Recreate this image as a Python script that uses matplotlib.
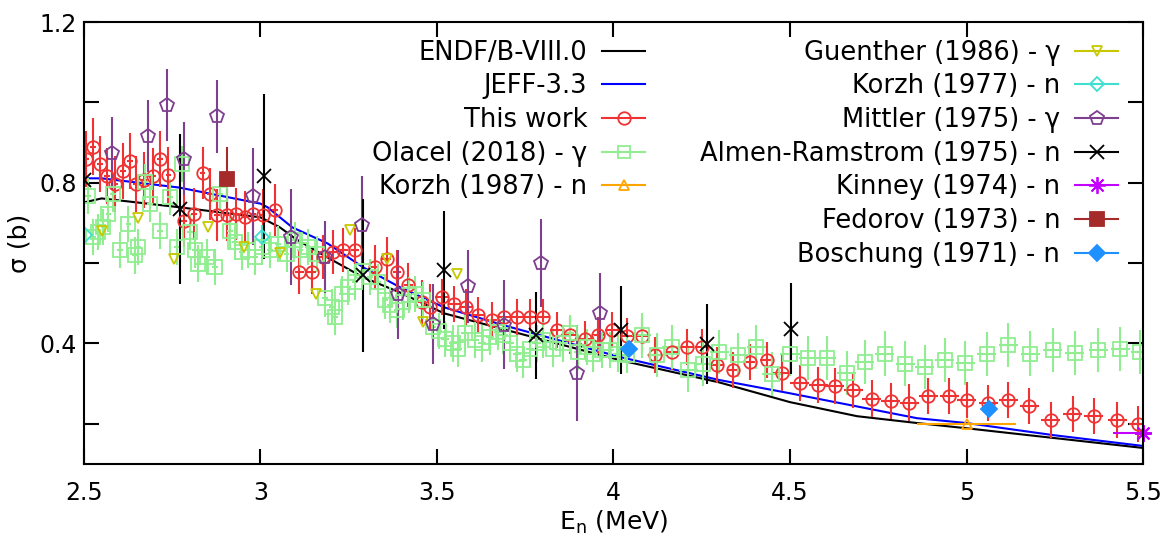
import numpy as np
import matplotlib
matplotlib.use('Agg')
from matplotlib import pyplot as plt
from matplotlib.lines import Line2D

# evaluated libraries
endf_e = [2.5, 2.55, 2.77, 3.0, 3.055, 3.10, 3.19, 3.29, 3.395, 3.52, 3.69, 4.02, 4.30, 4.50, 4.69, 4.86, 5.0, 5.245, 5.5]
endf_xs = [0.751, 0.761, 0.739, 0.714, 0.689, 0.660, 0.614, 0.565, 0.527, 0.475, 0.435, 0.358, 0.303, 0.254, 0.219, 0.202, 0.189, 0.165, 0.140]
jeff_e = [2.5, 2.55, 2.77, 3.0, 3.02, 3.09, 3.19, 3.29, 3.395, 3.52, 3.69, 4.02, 4.30, 4.50, 4.86, 5.0, 5.245, 5.5]
jeff_xs = [0.811, 0.811, 0.788, 0.748, 0.739, 0.689, 0.649, 0.590, 0.540, 0.490, 0.445, 0.366, 0.309, 0.276, 0.214, 0.202, 0.172, 0.145]

# this work
tw_e = [2.506, 2.525, 2.545, 2.566, 2.588, 2.610, 2.630, 2.647, 2.670, 2.695, 2.715, 2.739,
        2.784, 2.812, 2.836, 2.857, 2.876, 2.904, 2.931, 2.956, 2.980, 3.006, 3.041,
        3.110, 3.145, 3.178, 3.206, 3.235, 3.268, 3.324, 3.357, 3.386, 3.419, 3.457, 3.480,
        3.513, 3.549, 3.583, 3.617, 3.655, 3.690, 3.726, 3.763, 3.799, 3.839, 3.877, 3.919,
        3.957, 3.995, 4.037, 4.080, 4.118, 4.165, 4.207, 4.250, 4.292, 4.339, 4.388, 4.434,
        4.476, 4.528, 4.580, 4.627, 4.679, 4.731, 4.785, 4.838, 4.892, 4.951, 5.000, 5.062,
        5.118, 5.178, 5.239, 5.301, 5.361, 5.427, 5.487]
tw_xs = [0.859, 0.890, 0.847, 0.816, 0.797, 0.830, 0.855, 0.797, 0.806, 0.816, 0.859, 0.820,
         0.706, 0.723, 0.824, 0.772, 0.719, 0.719, 0.723, 0.714, 0.723, 0.719, 0.733,
         0.578, 0.578, 0.615, 0.627, 0.633, 0.633, 0.590, 0.611, 0.578, 0.545, 0.503, 0.492,
         0.516, 0.499, 0.490, 0.470, 0.458, 0.466, 0.466, 0.465, 0.465, 0.433, 0.420, 0.410,
         0.420, 0.433, 0.418, 0.418, 0.371, 0.379, 0.391, 0.391, 0.346, 0.334, 0.354, 0.358,
         0.327, 0.302, 0.296, 0.294, 0.284, 0.263, 0.257, 0.253, 0.269, 0.269, 0.259, 0.251,
         0.259, 0.244, 0.209, 0.224, 0.219, 0.209, 0.199]
tw_dxs = [0.07] * 12 + [0.065] * 11 + [0.055] * 12 + [0.045] * 43
tw_de = [0.008] * 23 + [0.012] * 12 + [0.018] * 24 + [0.027] * 19

# Olacel (2018)
ol_e = [2.512, 2.526, 2.540, 2.555, 2.569, 2.583, 2.602, 2.626, 2.644, 2.654, 2.673, 2.687,
        2.715, 2.744, 2.763, 2.777, 2.800, 2.814, 2.824, 2.848, 2.871, 2.885, 2.914, 2.928,
        2.947, 2.965, 2.984, 3.005, 3.027, 3.050, 3.074, 3.098, 3.112, 3.135, 3.159, 3.183,
        3.202, 3.211, 3.230, 3.249, 3.268, 3.290, 3.310, 3.334, 3.353, 3.367, 3.386, 3.405,
        3.420, 3.438, 3.461, 3.490, 3.505, 3.523, 3.546, 3.560, 3.579, 3.608, 3.627, 3.650,
        3.674, 3.688, 3.707, 3.726, 3.744, 3.763, 3.782, 3.801, 3.829, 3.858, 3.877, 3.900,
        3.924, 3.943, 3.967, 3.990, 4.012, 4.037, 4.080, 4.122, 4.165, 4.212, 4.254, 4.300,
        4.354, 4.405, 4.448, 4.500, 4.552, 4.604, 4.661, 4.712, 4.769, 4.826, 4.882, 4.939,
        4.996, 5.057, 5.118, 5.180, 5.244, 5.307, 5.373, 5.435, 5.492]
ol_xs = [0.768, 0.665, 0.677, 0.690, 0.723, 0.773, 0.632, 0.698, 0.619, 0.640, 0.801, 0.748,
         0.681, 0.764, 0.640, 0.847, 0.677, 0.632, 0.599, 0.615, 0.590, 0.773, 0.681, 0.652,
         0.627, 0.632, 0.615, 0.640, 0.632, 0.648, 0.623, 0.657, 0.632, 0.640, 0.623, 0.512,
         0.491, 0.466, 0.524, 0.540, 0.553, 0.580, 0.565, 0.553, 0.507, 0.495, 0.483, 0.503,
         0.520, 0.524, 0.507, 0.440, 0.430, 0.412, 0.400, 0.387, 0.425, 0.408, 0.400, 0.416,
         0.429, 0.420, 0.400, 0.375, 0.358, 0.387, 0.400, 0.408, 0.387, 0.400, 0.425, 0.379,
         0.391, 0.375, 0.383, 0.383, 0.375, 0.371, 0.420, 0.371, 0.391, 0.334, 0.348, 0.378,
         0.371, 0.391, 0.325, 0.375, 0.363, 0.363, 0.327, 0.354, 0.375, 0.350, 0.342, 0.358,
         0.352, 0.373, 0.396, 0.375, 0.383, 0.377, 0.383, 0.387, 0.379]
ol_dxs = [0.045] * 78 + [0.055] * 27
ol_de = [0.008] * 53 + [0.012] * 25 + [0.027] * 27

# Korzh (1987)
k87_e = [5.0]
k87_xs = [0.200]
k87_de = [0.14]

# Guenther (1986)
gu_e = [2.550, 2.654, 2.756, 2.852, 2.954, 3.055, 3.157, 3.254, 3.357, 3.460, 3.556]
gu_xs = [0.679, 0.712, 0.609, 0.690, 0.640, 0.625, 0.524, 0.683, 0.611, 0.454, 0.574]

# Korzh (1977)
k77_e = [2.503, 3.003]
k77_xs = [0.671, 0.665]
k77_dxs = [0.01, 0.03]

# Mittler (1975)
mi_e = [2.578, 2.682, 2.734, 2.784, 2.878, 2.980, 3.086, 3.183, 3.287, 3.390, 3.488, 3.589, 3.690, 3.794, 3.896, 3.962]
mi_xs = [0.873, 0.917, 0.994, 0.860, 0.965, 0.766, 0.665, 0.615, 0.696, 0.522, 0.448, 0.542, 0.447, 0.600, 0.327, 0.476]
mi_dxs = [0.09, 0.09, 0.09, 0.09, 0.09, 0.12, 0.12, 0.09, 0.12, 0.11, 0.10, 0.09, 0.11, 0.11, 0.12, 0.10]

# Almen-Ramstrom (1975)
ar_e = [2.500, 2.772, 3.011, 3.290, 3.521, 3.780, 4.020, 4.264, 4.502]
ar_xs = [0.806, 0.735, 0.816, 0.570, 0.582, 0.420, 0.433, 0.398, 0.437]
ar_dxs = [0.12, 0.186, 0.205, 0.19, 0.147, 0.108, 0.11, 0.10, 0.114]

# Kinney (1974)
ki_e = [5.50]
ki_xs = [0.178]
ki_de = [0.085]

# Fedorov (1973)
fe_e = [2.904]
fe_xs = [0.810]
fe_dxs = [0.079]

# Boschung (1971)
bo_e = [4.045, 5.065]
bo_xs = [0.387, 0.238]

red = '#f03232'
green = '#90ee90'
purple = '#7f3f8f'
star = (8, 2, 0)

fig = plt.figure(figsize=(11.68, 5.41), dpi=100)
ax = fig.add_axes([0.0719, 0.1423, 0.9067, 0.817])

ax.plot(endf_e, endf_xs, color='black', lw=1.5)
ax.plot(jeff_e, jeff_xs, color='#0000ff', lw=1.5)

eb = dict(ls='none', capsize=0, elinewidth=1.5, mew=1.3)
ax.errorbar(tw_e, tw_xs, yerr=tw_dxs, xerr=tw_de, fmt='o', ms=9, mfc='none', color=red, **eb)
ax.errorbar(ol_e, ol_xs, yerr=ol_dxs, xerr=ol_de, fmt='s', ms=9.5, mfc='none', color=green, **eb)
ax.errorbar(k87_e, k87_xs, xerr=k87_de, fmt='^', ms=7.5, mfc='none', color='#ffa500', **eb)
ax.errorbar(gu_e, gu_xs, fmt='v', ms=7.5, mfc='none', color='#c8c800', **eb)
ax.errorbar(k77_e, k77_xs, yerr=k77_dxs, fmt='D', ms=7, mfc='none', color='#40e0d0', **eb)
ax.errorbar(mi_e, mi_xs, yerr=mi_dxs, fmt='p', ms=10.5, mfc='none', color=purple, **eb)
ax.errorbar(ar_e, ar_xs, yerr=ar_dxs, fmt='x', ms=10.5, color='black', **eb)
ax.errorbar(ki_e, ki_xs, xerr=ki_de, fmt='none', ecolor='#c400ff', elinewidth=1.5, capsize=0)
ax.plot(ki_e, ki_xs, ls='none', marker=star, ms=12, mew=1.5, color='#c400ff', clip_on=False)
ax.errorbar(fe_e, fe_xs, yerr=fe_dxs, fmt='s', ms=10, color='#a52a2a', **eb)
ax.errorbar(bo_e, bo_xs, fmt='D', ms=8, color='#1e90ff', **eb)

ax.set_xlim(2.5, 5.5)
ax.set_ylim(0.1, 1.2)
ax.set_xticks([2.5, 3, 3.5, 4, 4.5, 5, 5.5])
ax.set_xticklabels(['2.5', '3', '3.5', '4', '4.5', '5', '5.5'])
ax.set_yticks([0.2, 0.4, 0.6, 0.8, 1.0, 1.2])
ax.set_yticklabels(['', '0.4', '', '0.8', '', '1.2'])
ax.tick_params(direction='in', length=11, width=1.5, top=True, right=True, labelsize=17)
ax.tick_params(axis='x', pad=12)
ax.tick_params(axis='y', pad=5)
for sp in ax.spines.values():
    sp.set_linewidth(1.5)
ax.set_xlabel('E$_\\mathregular{n}$ (MeV)', fontsize=18, labelpad=3)
ax.set_ylabel('σ (b)', fontsize=18, labelpad=6)

def h(color, marker, ms=9, mfc='none'):
    return Line2D([], [], color=color, marker=marker, ms=ms, mfc=mfc, lw=1.5, mew=1.3)

col1 = [Line2D([], [], color='black', lw=1.5), Line2D([], [], color='#0000ff', lw=1.5),
        h(red, 'o'), h(green, 's'), h('#ffa500', '^', 7.5)]
lab1 = ['ENDF/B-VIII.0', 'JEFF-3.3', 'This work', 'Olacel (2018) - γ', 'Korzh (1987) - n']
col2 = [h('#c8c800', 'v', 7.5), h('#40e0d0', 'D', 7), h(purple, 'p', 10.5), h('black', 'x', 10.5),
        h('#c400ff', star, 12), h('#a52a2a', 's', 10, '#a52a2a'), h('#1e90ff', 'D', 8, '#1e90ff')]
lab2 = ['Guenther (1986) - γ', 'Korzh (1977) - n', 'Mittler (1975) - γ', 'Almen-Ramstrom (1975) - n',
        'Kinney (1974) - n', 'Fedorov (1973) - n', 'Boschung (1971) - n']

leg_kw = dict(markerfirst=False, frameon=False, fontsize=18.5, handlelength=1.67, handletextpad=0.58,
              labelspacing=0.3, borderpad=0, borderaxespad=0, loc='upper right',
              bbox_transform=fig.transFigure)
leg1 = ax.legend(col1, lab1, bbox_to_anchor=(645 / 1168, 1 - 39.5 / 541), **leg_kw)
ax.add_artist(leg1)
ax.legend(col2, lab2, bbox_to_anchor=(1118 / 1168, 1 - 39.5 / 541), **leg_kw)

plt.savefig('out.png', dpi=100)
